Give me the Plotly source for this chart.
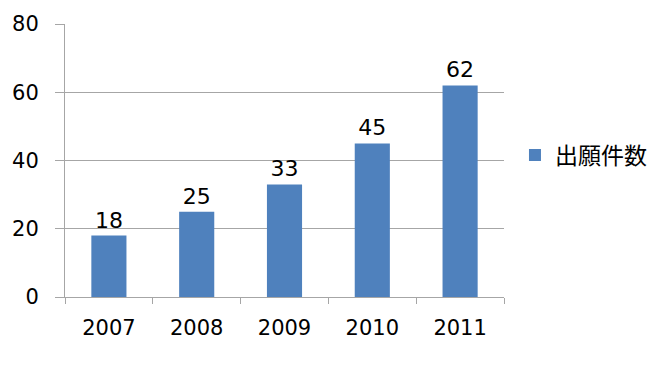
import plotly.graph_objects as go

years = ["2007", "2008", "2009", "2010", "2011"]
values = [18, 25, 33, 45, 62]
series_name = "出願件数"
y_ticks = [0, 20, 40, 60, 80]

fig = go.Figure()
fig.add_trace(go.Bar(
    x=years, y=values, name=series_name,
    marker=dict(color="#4F81BD", line=dict(width=0)),
    text=[str(v) for v in values], textposition="outside",
    textfont=dict(family="DejaVu Sans", size=22, color="#000000"),
    cliponaxis=False,
))

fig.update_layout(
    width=667, height=368,
    margin=dict(l=62, r=163, t=23, b=71),
    paper_bgcolor="white", plot_bgcolor="white",
    bargap=0.6,
    showlegend=True,
    legend=dict(x=1.025, y=0.52, xanchor="left", yanchor="middle",
                font=dict(family="Noto Sans CJK JP", size=23, color="#000000"),
                itemwidth=30, bgcolor="rgba(0,0,0,0)"),
    font=dict(family="DejaVu Sans", size=21, color="#000000"),
)
fig.update_xaxes(
    type="category", tickson="boundaries", ticks="outside", ticklen=6,
    tickcolor="#A6A6A6", showline=True, linecolor="#A6A6A6", linewidth=1,
    showgrid=False, tickfont=dict(family="DejaVu Sans", size=21),
    ticklabelstandoff=12,
)
fig.update_yaxes(
    range=[0, 80], tickvals=y_ticks, ticks="outside", ticklen=9,
    tickcolor="#A6A6A6", showline=True, linecolor="#A6A6A6", linewidth=1,
    showgrid=True, gridcolor="#A6A6A6", gridwidth=1, zeroline=False,
    tickfont=dict(family="DejaVu Sans", size=21), ticklabelstandoff=12,
)
fig.write_html("out.html")
